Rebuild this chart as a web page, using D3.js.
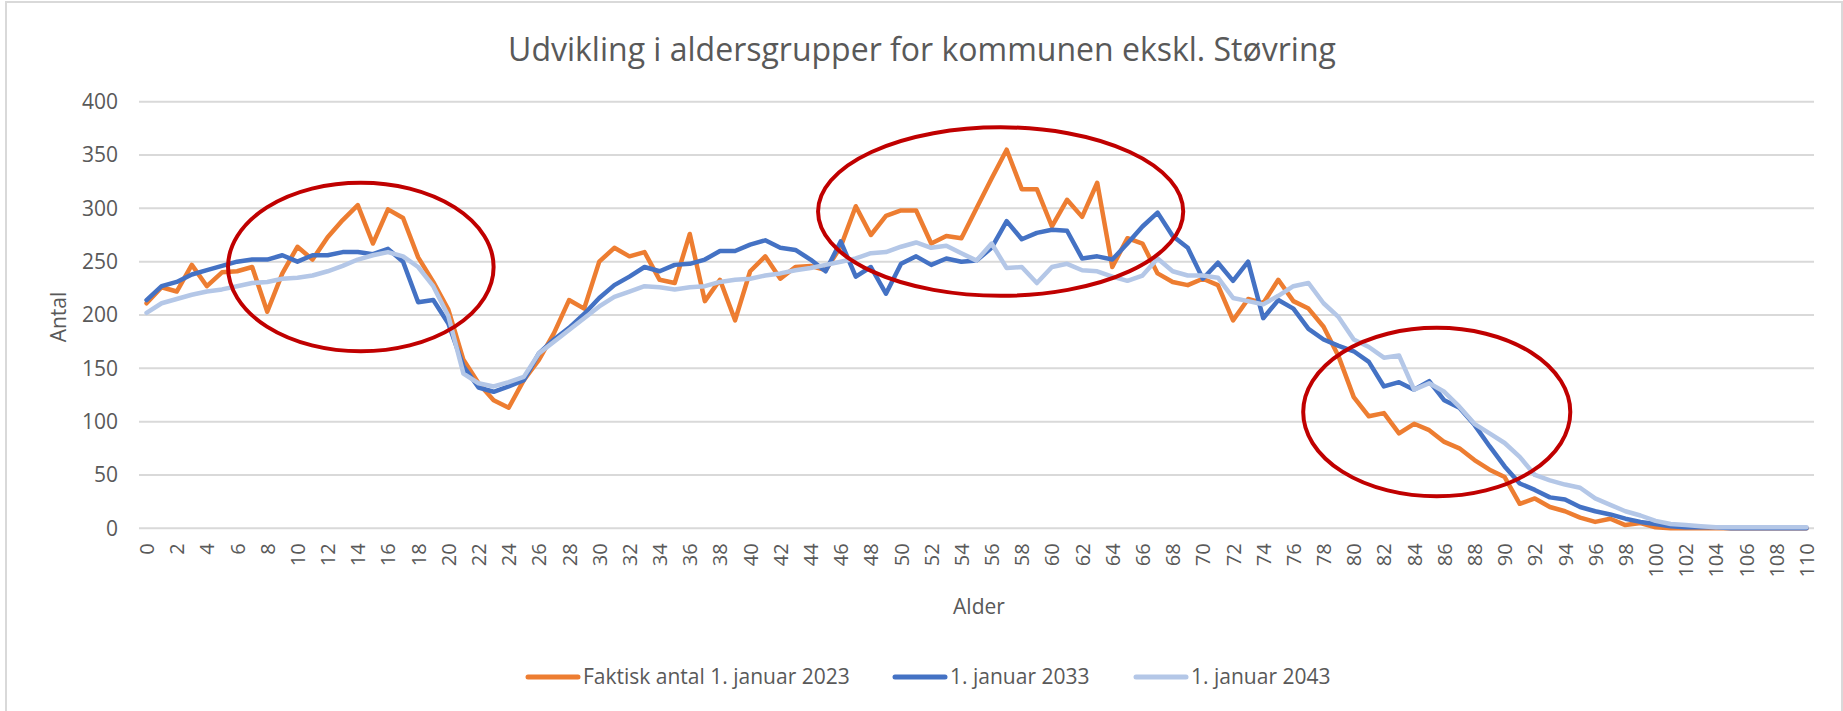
<!DOCTYPE html>
<html>
<head>
<meta charset="utf-8">
<script src="https://cdn.jsdelivr.net/npm/d3@7"></script>
<style>
  body { margin: 0; background: #fff; }
  svg text { font-family: "Open Sans", "Noto Sans", sans-serif; fill: #595959; }
</style>
</head>
<body>
<script>
// alder 0..110
var ages = d3.range(0, 111);

var seriesNames = ["Faktisk antal 1. januar 2023", "1. januar 2033", "1. januar 2043"];
var seriesColors = ["#ED7D31", "#4472C4", "#B4C7E7"];

var faktisk2023 = [211,226,222,247,227,240,241,245,203,239, 264,252,273,289,303,267,299,291,254,231,
  205,158,136,120,113,139,158,183,214,206, 250,263,255,259,233,230,276,213,233,195,
  241,255,234,245,246,242,264,302,275,293, 298,298,267,274,272,300,328,355,318,318,
  283,308,292,324,245,272,267,239,231,228, 234,228,195,215,211,233,213,206,189,161,
  123,105,108,89,98,92,81,75,64,55, 48,23,28,20,16,10,6,9,3,5,
  1,0,0,0,0,0,0,0,0,0, 0];

var jan2033 = [214,227,231,238,242,246,250,252,252,256, 250,256,256,259,259,257,262,250,212,214,
  192,152,132,128,133,139,164,177,188,201, 216,228,236,245,241,247,248,252,260,260,
  266,270,263,261,252,241,269,236,245,220, 248,255,247,253,250,251,263,288,271,277,
  280,279,253,255,252,267,283,296,274,263, 234,249,232,250,197,214,206,187,177,171,
  166,156,133,137,130,138,120,113,97,77, 58,42,36,29,27,20,16,13,9,6,
  4,2,1,1,1,0,0,0,0,0, 0];

var jan2043 = [202,211,215,219,222,224,227,230,231,234, 235,237,241,246,252,256,259,255,245,227,
  199,145,136,133,137,142,164,175,186,197, 208,217,222,227,226,224,226,227,231,233,
  234,237,239,242,244,247,250,253,258,259, 264,268,263,265,258,251,267,244,245,230,
  245,248,242,241,236,232,237,253,241,237, 237,235,216,213,210,218,227,230,211,198,
  177,170,160,162,130,136,128,114,98,89, 80,67,50,45,41,38,28,22,16,12,
  7,4,3,2,1,1,1,1,1,1, 1];

var yTicks = [0, 50, 100, 150, 200, 250, 300, 350, 400];
var xTicks = d3.range(0, 111, 2);

// røde markeringer: midte (alder, antal) og radier (aldre, antal)
var markAge = [14.2, 56.6, 85.5];
var markVal = [245, 297, 109];
var markRx = [8.8, 12.1, 8.85];
var markRy = [79, 79, 79];

var W = 1843, H = 711;
var plot = {left: 139, right: 1814, top: 101.7, bottom: 528.3};

var svg = d3.select("body").append("svg").attr("width", W).attr("height", H);

svg.append("rect")
  .attr("x", 6).attr("y", 2).attr("width", 1836).attr("height", 720)
  .attr("fill", "#fff").attr("stroke", "#d9d9d9").attr("stroke-width", 2);

var x = d3.scaleLinear().domain([-0.5, 110.5]).range([plot.left, plot.right]);
var y = d3.scaleLinear().domain([0, 400]).range([plot.bottom, plot.top]);

// titel
svg.append("text")
  .attr("x", 922).attr("y", 61)
  .attr("text-anchor", "middle")
  .style("font-size", "32px")
  .text("Udvikling i aldersgrupper for kommunen ekskl. Støvring");

// gitterlinjer
svg.append("g").selectAll("line")
  .data(yTicks)
  .enter().append("line")
    .attr("x1", plot.left).attr("x2", plot.right)
    .attr("y1", function(d) { return y(d); })
    .attr("y2", function(d) { return y(d); })
    .attr("stroke", "#d9d9d9").attr("stroke-width", 2);

// y-akse
var yAxis = svg.append("g")
  .attr("transform", "translate(" + (plot.left - 21) + ",0)")
  .call(d3.axisLeft(y).tickValues(yTicks).tickSize(0).tickPadding(0));
yAxis.select(".domain").remove();
yAxis.selectAll("text")
  .style("font-size", "21px")
  .attr("fill", "#595959");

// x-akse, lodrette etiketter
var xAxis = svg.append("g")
  .attr("transform", "translate(0," + plot.bottom + ")")
  .call(d3.axisBottom(x).tickValues(xTicks).tickFormat(d3.format("d")).tickSize(0));
xAxis.select(".domain").remove();
xAxis.selectAll("text")
  .style("font-size", "20px")
  .attr("fill", "#595959")
  .attr("y", 0)
  .attr("dy", "0.35em")
  .attr("text-anchor", "end")
  .attr("transform", "translate(0,15) rotate(-90)");

// akse titler
svg.append("text")
  .attr("transform", "translate(66,317) rotate(-90)")
  .attr("text-anchor", "middle")
  .style("font-size", "21px")
  .text("Antal");

svg.append("text")
  .attr("x", 979).attr("y", 614)
  .attr("text-anchor", "middle")
  .style("font-size", "21px")
  .text("Alder");

// linjer
var seriesData = [faktisk2023, jan2033, jan2043];
var line = d3.line()
  .x(function(d, i) { return x(ages[i]); })
  .y(function(d) { return y(d); });

seriesData.forEach(function(vals, k) {
  svg.append("path")
    .datum(vals)
    .attr("fill", "none")
    .attr("stroke", seriesColors[k])
    .attr("stroke-width", 4.5)
    .attr("stroke-linejoin", "round")
    .attr("stroke-linecap", "round")
    .attr("d", line);
});

// røde ellipser
svg.append("g").selectAll("ellipse")
  .data(markAge)
  .enter().append("ellipse")
    .attr("cx", function(d) { return x(d); })
    .attr("cy", function(d, i) { return y(markVal[i]); })
    .attr("rx", function(d, i) { return x(markRx[i]) - x(0); })
    .attr("ry", function(d, i) { return y(0) - y(markRy[i]); })
    .attr("fill", "none")
    .attr("stroke", "#C00000")
    .attr("stroke-width", 4);

// legende
var legX = [526, 893, 1134];
var legend = svg.append("g").selectAll("g")
  .data(seriesNames)
  .enter().append("g")
    .attr("transform", function(d, i) { return "translate(" + legX[i] + ",677)"; });

legend.append("line")
  .attr("x1", 2).attr("x2", 52)
  .attr("stroke", function(d, i) { return seriesColors[i]; })
  .attr("stroke-width", 5)
  .attr("stroke-linecap", "round");

legend.append("text")
  .attr("x", 57).attr("dy", "0.35em")
  .style("font-size", "21px")
  .text(function(d) { return d; });
</script>
</body>
</html>
